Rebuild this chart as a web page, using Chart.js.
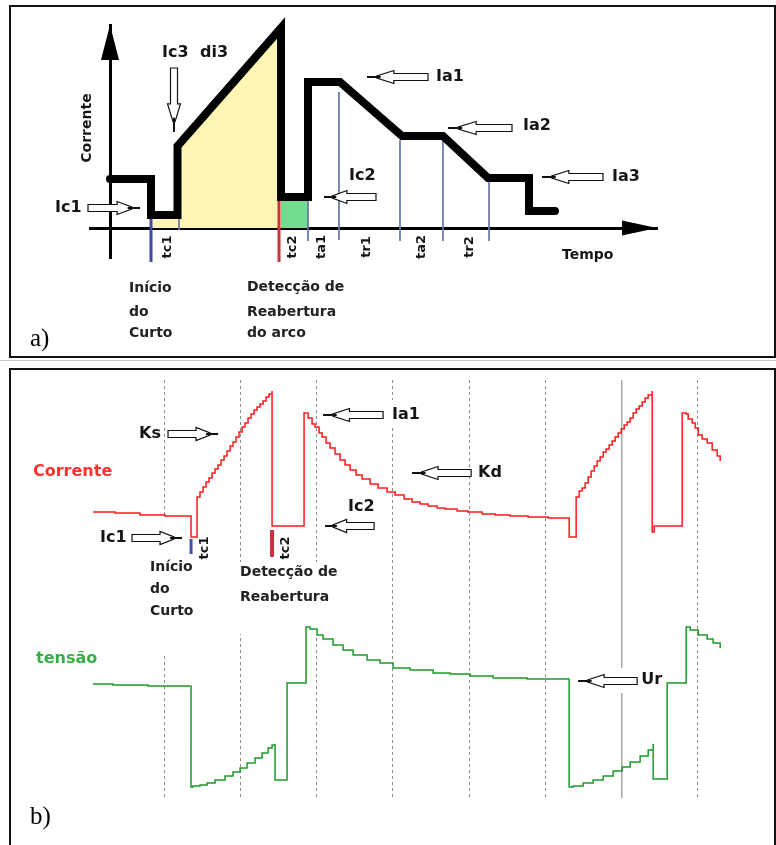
<!DOCTYPE html>
<html>
<head>
<meta charset="utf-8">
<script src="https://cdn.jsdelivr.net/npm/chart.js@4.4.0/dist/chart.umd.min.js"></script>
<style>
  body { margin: 0; background: #fff; }
  canvas { position: absolute; left: 0; }
  #chartA { top: 0; }
  #chartB { top: 360px; }
</style>
</head>
<body>
<canvas id="chartA" width="776" height="360"></canvas>
<canvas id="chartB" width="776" height="485"></canvas>
<script>
// ---------- a) idealised current program (time, current) ----------
const waveT = [0, 4.1, 4.1, 6.75, 6.75, 17.1, 17.1, 19.8, 19.8, 23.0, 29.2, 33.3, 37.8, 41.9, 41.9, 44.5];
const waveI = [4.9, 4.9, 1.3, 1.3, 8.2, 20.0, 3.1, 3.1, 14.6, 14.6, 9.2, 9.2, 5.0, 5.0, 1.7, 1.7];

// phase boundaries drawn as thin vertical lines
const phaseT = [6.9, 19.8, 22.9, 29.0, 33.3, 37.9];
const phaseTop = [1.0, 2.8, 13.6, 8.8, 8.8, 4.6];
const phaseBottom = [-0.2, -1.3, -1.2, -1.3, -1.3, -1.3];
const phaseLabels = ['tc1', 'tc2', 'ta1', 'tr1', 'ta2', 'tr2'];
const phaseLabelT = [5.8, 18.3, 21.2, 25.7, 31.2, 36.0];

const shortStartT = 4.1;   // Início do Curto
const reopenT = 16.9;      // Detecção de Reabertura

// ---------- b) measured current and voltage ----------
const curT = [5, 27, 52, 77, 103, 103, 109,
  109, 112, 115, 118, 121, 124, 127, 130, 133, 136, 139, 142, 145, 148, 151, 154, 157, 160,
  163, 166, 169, 172, 175, 178, 181, 184,
  184, 216, 216,
  220, 224, 227, 231, 234, 238, 242, 247, 252, 257, 262, 268, 274, 282, 290, 299, 307,
  316, 324, 332, 340, 349, 357, 369, 380, 394, 407, 422, 440, 460, 481,
  481, 488,
  488, 491, 494, 497, 500, 503, 506, 509, 512, 515, 518, 521, 524, 527, 530, 533, 536, 539,
  542, 545, 548, 551, 554, 557, 560, 564,
  564, 566, 566, 594, 594,
  598, 600, 604, 607, 610, 614, 619, 624, 629, 632];
const curI = [286, 285, 283, 282, 280, 261, 261,
  301, 306, 311, 316, 320, 325, 329, 333, 338, 342, 347, 352, 356, 361, 366, 371, 375, 380,
  384, 388, 391, 394, 397, 401, 404, 407,
  272, 272, 385,
  380, 374, 371, 365, 361, 355, 350, 344, 338, 333, 328, 323, 319, 314, 310, 306, 303,
  299, 296, 294, 292, 290, 289, 287, 286, 284, 283, 282, 281, 280, 280,
  261, 261,
  301, 307, 310, 315, 321, 327, 332, 337, 341, 346, 349, 353, 357, 361, 365, 369, 373, 376,
  380, 385, 389, 392, 396, 400, 403, 407,
  266, 266, 272, 272, 385,
  384, 379, 375, 370, 363, 359, 355, 348, 342, 337];

const volT = [5, 25, 60, 103, 103,
  105, 112, 119, 127, 137, 145, 152, 159, 167, 174, 180, 184, 187,
  187, 199, 199, 218, 218,
  222, 229, 235, 245, 255, 265, 279, 292, 305, 322, 345, 362, 382, 405, 439, 481,
  481, 485, 495, 505, 515, 525, 534, 542, 552, 560, 565,
  565, 579, 579, 598, 598,
  602, 610, 619, 625, 632];
const volU = [11.4, 11.3, 11.2, 11.1, 1.1,
  1.2, 1.3, 1.5, 1.8, 2.2, 2.6, 3.0, 3.5, 4.0, 4.5, 5.0, 5.3, 5.4,
  1.8, 2.0, 11.5, 11.5, 17.1,
  16.9, 16.3, 15.9, 15.3, 14.8, 14.3, 13.8, 13.5, 13.0, 12.8, 12.5, 12.4, 12.2, 12.0, 11.9, 11.8,
  1.1, 1.2, 1.5, 1.8, 2.2, 2.7, 3.1, 3.6, 4.2, 4.8, 5.4,
  1.9, 1.9, 11.5, 11.5, 17.1,
  16.8, 16.3, 15.9, 15.5, 15.0];

const tc1T = 103, tc2T = 184;

const FONT = '"DejaVu Sans", Verdana, sans-serif';

function pts(xs, ys) {
  return xs.map((x, i) => ({ x: x, y: ys[i] }));
}

function hollowArrow(ctx, x1, y1, x2, y2) {
  const len = Math.hypot(x2 - x1, y2 - y1);
  const a = len * 0.56, b = len * 0.84;
  ctx.save();
  ctx.translate(x1, y1);
  ctx.rotate(Math.atan2(y2 - y1, x2 - x1));
  ctx.beginPath();
  ctx.moveTo(0, -3.5);
  ctx.lineTo(a, -3.5);
  ctx.lineTo(a, -6.5);
  ctx.lineTo(b, -1);
  ctx.lineTo(b, 1);
  ctx.lineTo(a, 6.5);
  ctx.lineTo(a, 3.5);
  ctx.lineTo(0, 3.5);
  ctx.closePath();
  ctx.fillStyle = '#fff';
  ctx.fill();
  ctx.lineWidth = 1.2;
  ctx.strokeStyle = '#111';
  ctx.stroke();
  ctx.beginPath();
  ctx.moveTo(b - 4, 0);
  ctx.lineTo(len, 0);
  ctx.lineWidth = 2;
  ctx.stroke();
  ctx.restore();
}

function text(ctx, s, x, y, font, color, rotate) {
  ctx.save();
  ctx.font = font;
  ctx.fillStyle = color || '#151515';
  ctx.textBaseline = 'middle';
  if (rotate) {
    ctx.translate(x, y);
    ctx.rotate(-Math.PI / 2);
    ctx.textAlign = 'center';
    ctx.fillText(s, 0, 0);
  } else {
    ctx.textAlign = 'left';
    ctx.fillText(s, x, y);
  }
  ctx.restore();
}

// annotations of panel a (text left edge / arrow tail -> tip, in data units)
const notesA = [
  { t: 'Ic1', x: -5.5, y: 2.0 }, { t: 'Ic3', x: 5.2, y: 17.5 }, { t: 'di3', x: 9.0, y: 17.5 },
  { t: 'Ic2', x: 23.9, y: 5.2 }, { t: 'Ia1', x: 32.6, y: 15.1 }, { t: 'Ia2', x: 41.3, y: 10.2 },
  { t: 'Ia3', x: 50.2, y: 5.1 }
];
const arrowsA = [
  [-2.2, 2.0, 3.0, 2.0], [6.4, 16.0, 6.4, 9.6], [26.6, 3.1, 21.4, 3.1],
  [31.8, 15.1, 25.7, 15.1], [40.2, 10.0, 33.8, 10.0], [49.3, 5.1, 43.2, 5.1]
];

const panelA = {
  id: 'panelA',
  afterDraw(chart) {
    const ctx = chart.ctx, xs = chart.scales.x, ys = chart.scales.y;
    const X = v => xs.getPixelForValue(v), Y = v => ys.getPixelForValue(v);
    // frame
    ctx.save();
    ctx.strokeStyle = '#111';
    ctx.lineWidth = 2;
    ctx.strokeRect(10, 6, 765, 351);
    ctx.restore();
    // axis arrow heads
    ctx.save();
    ctx.fillStyle = '#000';
    ctx.beginPath();
    ctx.moveTo(xs.right, Y(0));
    ctx.lineTo(xs.right - 35, Y(0) - 7.5);
    ctx.lineTo(xs.right - 35, Y(0) + 7.5);
    ctx.closePath();
    ctx.fill();
    ctx.beginPath();
    ctx.moveTo(X(0), ys.top);
    ctx.lineTo(X(0) - 9, ys.top + 35);
    ctx.lineTo(X(0) + 9, ys.top + 35);
    ctx.closePath();
    ctx.fill();
    ctx.restore();

    const big = 'bold 16px ' + FONT, mid = 'bold 14px ' + FONT, small = 'bold 13px ' + FONT;
    notesA.forEach(n => text(ctx, n.t, X(n.x), Y(n.y), big));
    arrowsA.forEach(a => hollowArrow(ctx, X(a[0]), Y(a[1]), X(a[2]), Y(a[3])));
    phaseLabels.forEach((s, i) => text(ctx, s, X(phaseLabelT[i]), Y(-1.9), small, '#151515', true));
    text(ctx, 'Tempo', X(45.2), Y(-2.7), mid);
    text(ctx, 'Corrente', X(-2.3), Y(10.0), mid, '#151515', true);
    ['Início', 'do', 'Curto'].forEach((s, i) => text(ctx, s, X(1.9), Y([-6.0, -8.4, -10.5][i]), mid, '#222'));
    ['Detecção de', 'Reabertura', 'do arco'].forEach((s, i) => text(ctx, s, X(13.7), Y([-5.9, -8.4, -10.5][i]), mid, '#222'));
    text(ctx, 'a)', X(-8.0), Y(-11.1), '25px "Liberation Serif", "Times New Roman", serif', '#000');
  }
};

const thinLines = phaseT.map((t, i) => ({
  data: [{ x: t, y: phaseTop[i] }, { x: t, y: phaseBottom[i] }],
  borderColor: '#6b78a6', borderWidth: 1, pointRadius: 0, clip: false
}));

new Chart(document.getElementById('chartA'), {
  type: 'line',
  data: {
    datasets: [
      { data: pts(waveT, waveI), borderColor: '#000', borderWidth: 8, pointRadius: 0,
        borderJoinStyle: 'miter', borderCapStyle: 'round', tension: 0, clip: false },
      { data: [{ x: shortStartT, y: waveI[2] }, { x: shortStartT, y: -3.4 }],
        borderColor: '#3f4aa6', borderWidth: 3, pointRadius: 0, clip: false },
      { data: [{ x: reopenT, y: waveI[6] }, { x: reopenT, y: -3.4 }],
        borderColor: '#d0323c', borderWidth: 3, pointRadius: 0, clip: false },
      ...thinLines,
      { data: pts(waveT.slice(2, 6), waveI.slice(2, 6)), borderWidth: 0, pointRadius: 0,
        fill: 'origin', backgroundColor: '#fff5b4' },
      { data: pts(waveT.slice(6, 8), waveI.slice(6, 8)), borderWidth: 0, pointRadius: 0,
        fill: 'origin', backgroundColor: '#74dc8e' }
    ]
  },
  options: {
    responsive: false,
    animation: false,
    events: [],
    layout: { padding: { left: 90, right: 119, top: 25, bottom: 102 } },
    plugins: { legend: { display: false }, tooltip: { enabled: false } },
    scales: {
      x: { type: 'linear', min: -2, max: 54.7, position: { y: 0 },
        grid: { display: false }, ticks: { display: false },
        border: { display: true, color: '#000', width: 3 } },
      y: { type: 'linear', min: -3, max: 20.3, position: { x: 0 },
        grid: { display: false }, ticks: { display: false },
        border: { display: true, color: '#000', width: 3 } }
    }
  },
  plugins: [panelA]
});

// ---------- panel b ----------
const notesB = [
  { t: 'Ks', x: 51, y: 364 }, { t: 'Ia1', x: 304, y: 383 }, { t: 'Kd', x: 390, y: 325 },
  { t: 'Ic2', x: 260, y: 291 }, { t: 'Ic1', x: 12, y: 260 }
];
const arrowsB = [
  [80, 364, 130, 364], [295, 383, 235, 383], [383, 325, 324, 325],
  [286, 272, 237, 272], [44, 260, 94, 260]
];
const masksB = [
  [52, 280, 117, 143], [148, 236, 254, 164], [300, 398, 332, 370], [487, 130, 574, 105]
];

const panelB = {
  id: 'panelB',
  beforeDraw(chart) {
    const ctx = chart.ctx;
    ctx.save();
    ctx.strokeStyle = '#c8c8c8';
    ctx.lineWidth = 1;
    ctx.beginPath();
    ctx.moveTo(0, 0.5);
    ctx.lineTo(776, 0.5);
    ctx.stroke();
    ctx.strokeStyle = '#111';
    ctx.lineWidth = 2;
    ctx.strokeRect(10, 9, 765, 500);
    ctx.restore();
  },
  beforeDatasetsDraw(chart) {
    const ctx = chart.ctx, xs = chart.scales.x, yi = chart.scales.yI, yu = chart.scales.yU;
    const X = v => xs.getPixelForValue(v), Y = v => yi.getPixelForValue(v), U = v => yu.getPixelForValue(v);
    ctx.save();
    ctx.fillStyle = '#fff';
    masksB.forEach(m => ctx.fillRect(X(m[0]), Y(m[1]), X(m[2]) - X(m[0]), Y(m[3]) - Y(m[1])));
    ctx.restore();

    const big = 'bold 16px ' + FONT, mid = 'bold 14px ' + FONT, small = 'bold 13px ' + FONT;
    text(ctx, 'Corrente', X(-55), Y(326), big, '#ff3030');
    text(ctx, 'tensão', X(-52), U(13.9), big, '#36b046');
    notesB.forEach(n => text(ctx, n.t, X(n.x), Y(n.y), big));
    arrowsB.forEach(a => hollowArrow(ctx, X(a[0]), Y(a[1]), X(a[2]), Y(a[3])));
    text(ctx, 'Ur', X(553), U(11.8), big);
    hollowArrow(ctx, X(549), U(11.7), X(490), U(11.7));
    ['Início', 'do', 'Curto'].forEach((s, i) => text(ctx, s, X(62), Y([231, 209, 187][i]), mid, '#222'));
    ['Detecção de', 'Reabertura'].forEach((s, i) => text(ctx, s, X(152), Y([226, 201][i]), mid, '#222'));
    text(ctx, 'tc1', X(117), Y(250), small, '#151515', true);
    text(ctx, 'tc2', X(198), Y(250), small, '#151515', true);
    text(ctx, 'b)', X(-58), Y(-19), '25px "Liberation Serif", "Times New Roman", serif', '#000');
  }
};

const STEP = 76.2;
new Chart(document.getElementById('chartB'), {
  type: 'line',
  data: {
    datasets: [
      { data: pts(curT, curI), yAxisID: 'yI', borderColor: '#ff1a1a', borderWidth: 1.5,
        pointRadius: 0, stepped: true },
      { data: pts(volT, volU), yAxisID: 'yU', borderColor: '#1e9a28', borderWidth: 1.5,
        pointRadius: 0, stepped: true },
      { data: [{ x: tc1T, y: 259 }, { x: tc1T, y: 244 }], yAxisID: 'yI',
        borderColor: '#4550a8', borderWidth: 3, pointRadius: 0 },
      { data: [{ x: tc2T, y: 268 }, { x: tc2T, y: 241 }], yAxisID: 'yI',
        borderColor: '#c8323e', borderWidth: 4, pointRadius: 0 }
    ]
  },
  options: {
    responsive: false,
    animation: false,
    events: [],
    layout: { padding: { left: 88, right: 2, top: 20, bottom: 47 } },
    plugins: { legend: { display: false }, tooltip: { enabled: false } },
    scales: {
      x: { type: 'linear', min: 0, max: 685.8,
        ticks: { display: false, stepSize: STEP },
        grid: {
          display: true, drawTicks: false,
          color: c => {
            const k = Math.round(c.tick.value / STEP);
            if (k <= 0 || k >= 9) return 'rgba(0,0,0,0)';
            return k === 7 ? '#a8a8a8' : '#8c8c8c';
          },
          lineWidth: c => Math.round(c.tick.value / STEP) === 7 ? 1.5 : 1
        },
        border: { display: false, dash: c => Math.round(c.tick.value / STEP) === 7 ? [] : [3, 3] }
      },
      yI: { type: 'linear', min: 0, max: 418, display: false },
      yU: { type: 'linear', min: 0, max: 41.8, display: false }
    }
  },
  plugins: [panelB]
});
</script>
</body>
</html>
